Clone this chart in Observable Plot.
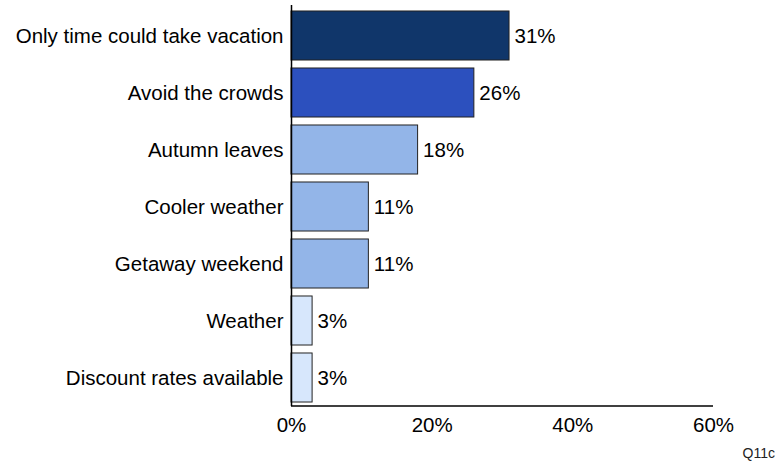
<!DOCTYPE html>
<html>
<head>
<meta charset="utf-8">
<script src="https://cdn.jsdelivr.net/npm/d3@7"></script>
<script src="https://cdn.jsdelivr.net/npm/@observablehq/plot@0.6"></script>
<style>
  body { margin: 0; background: #fff; font-family: "Liberation Sans", Arial, sans-serif; }
  #wrap { position: relative; width: 776px; height: 464px; }
  #note { position: absolute; right: 1px; top: 445px; font-size: 14px; color: #222; }
</style>
</head>
<body>
<div id="wrap"><div id="note"></div></div>
<script>
const categories = ["Only time could take vacation", "Avoid the crowds", "Autumn leaves", "Cooler weather", "Getaway weekend", "Weather", "Discount rates available"];
const values = [31, 26, 18, 11, 11, 3, 3];
const colors = ["#10366a", "#2c50be", "#93b5e8", "#93b5e8", "#93b5e8", "#d7e7fc", "#d7e7fc"];
const xTicks = [0, 20, 40, 60];
const note = "Q11c";

const data = categories.map((c, i) => ({category: c, value: values[i], color: colors[i]}));

const plot = Plot.plot({
  width: 776,
  height: 440,
  marginLeft: 291,
  marginRight: 63,
  marginTop: 5,
  marginBottom: 34,
  style: {fontFamily: "'Liberation Sans', Arial, sans-serif", fontSize: "20.5px", color: "#000", background: "#fff"},
  x: {domain: [0, 60], ticks: xTicks, tickFormat: d => d + "%", tickSize: 0, tickPadding: 11, label: null},
  y: {domain: categories, range: [7, 406], paddingInner: 0.14, paddingOuter: 0.07, round: false, tickSize: 0, tickPadding: 8, label: null},
  marks: [
    Plot.barX(data, {y: "category", x: "value", fill: "color", stroke: "#222", strokeWidth: 1}),
    Plot.text(data, {y: "category", x: "value", text: d => d.value + "%", textAnchor: "start", dx: 5, fontSize: 20.5, fill: "#000"}),
    Plot.ruleX([0], {stroke: "#000", strokeWidth: 1.5})
  ]
});

// horizontal baseline drawn from the plot's own x scale
const xs = plot.scale("x");
d3.select(plot).append("line")
  .attr("x1", xs.apply(0)).attr("x2", xs.apply(60))
  .attr("y1", 440 - 34).attr("y2", 440 - 34)
  .attr("stroke", "#000").attr("stroke-width", 1.5);

document.getElementById("wrap").prepend(plot);
document.getElementById("note").textContent = note;
</script>
</body>
</html>
